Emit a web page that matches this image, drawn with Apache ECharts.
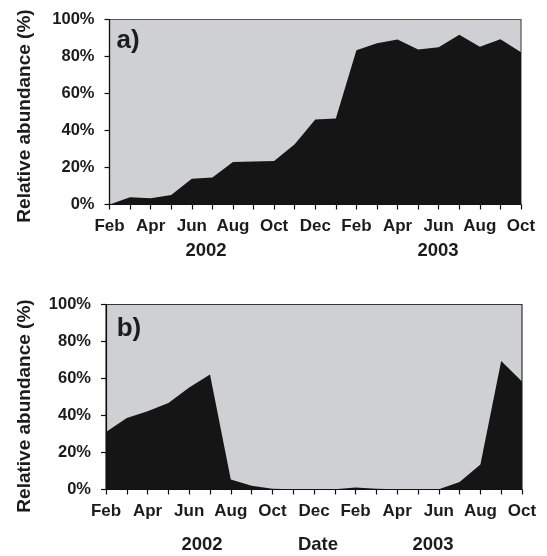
<!DOCTYPE html>
<html>
<head>
<meta charset="utf-8">
<script src="https://cdn.jsdelivr.net/npm/echarts@6/dist/echarts.min.js"></script>
<style>
html,body{margin:0;padding:0;background:#fff;}
#chart{width:547px;height:556px;}
</style>
</head>
<body>
<div id="chart"></div>
<script>
// Categories: monthly samples Feb 2002 .. Oct 2003
var months = ['Feb 2002','Mar 2002','Apr 2002','May 2002','Jun 2002','Jul 2002','Aug 2002','Sep 2002','Oct 2002','Nov 2002','Dec 2002',
              'Jan 2003','Feb 2003','Mar 2003','Apr 2003','May 2003','Jun 2003','Jul 2003','Aug 2003','Sep 2003','Oct 2003'];
// Panel a) relative abundance (%)
var valuesA = [0, 3.9, 3.4, 5.2, 13.9, 14.6, 23.0, 23.3, 23.5, 32.6, 45.9, 46.5, 83.4, 87.2, 89.2, 83.8, 85.0, 91.8, 85.3, 89.3, 82.3];
// Panel b) relative abundance (%)
var valuesB = [31.1, 38.7, 42.3, 46.8, 55.1, 62.1, 5.4, 2.0, 0.4, 0.2, 0.2, 0.2, 1.1, 0.4, 0.2, 0.2, 0.2, 4.1, 13.5, 69.5, 58.4];
var yTicks = [0, 20, 40, 60, 80, 100];
var panelLabels = ['a)', 'b)'];
var yearLabels = ['2002', '2003'];
var yTitle = 'Relative abundance (%)';
var xTitle = 'Date';

var FONT = '"Liberation Sans", Arial, Helvetica, sans-serif';
var TXT = '#1c1c1c';

function xAxisCfg(gridIndex) {
  return {
    type: 'category', gridIndex: gridIndex, data: months, boundaryGap: false,
    axisLine: { show: true, lineStyle: { color: '#111', width: 1.2 } },
    axisTick: { show: true, inside: false, length: 5, interval: 0, alignWithLabel: true, lineStyle: { color: '#111', width: 1.2 } },
    axisLabel: { interval: 1, margin: 13, fontFamily: FONT, fontWeight: 'bold', fontSize: 17, color: TXT,
      formatter: function (v) { return v.split(' ')[0]; } },
    splitLine: { show: false }, z: 10
  };
}
function yAxisCfg(gridIndex) {
  return {
    type: 'value', gridIndex: gridIndex, min: yTicks[0], max: yTicks[yTicks.length - 1], interval: yTicks[1] - yTicks[0],
    axisLine: { show: true, lineStyle: { color: '#111', width: 1.2 } },
    axisTick: { show: true, inside: false, length: 5, lineStyle: { color: '#111', width: 1.2 } },
    axisLabel: { margin: 15, fontFamily: FONT, fontWeight: 'bold', fontSize: 16.5, color: TXT, formatter: '{value}%' },
    splitLine: { show: false }, z: 10
  };
}
function areaSeries(idx, data) {
  return {
    type: 'line', xAxisIndex: idx, yAxisIndex: idx, data: data,
    showSymbol: false, symbol: 'none', smooth: false,
    lineStyle: { width: 0, color: '#151515' },
    areaStyle: { color: '#151515', opacity: 1 },
    silent: true, animation: false
  };
}
function txt(text, x, y, size, extra) {
  var o = { type: 'text', x: x, y: y, silent: true,
    style: { text: text, fill: TXT, font: 'bold ' + size + 'px ' + FONT, textAlign: 'center', textVerticalAlign: 'middle' } };
  if (extra) for (var k in extra) o[k] = extra[k];
  return o;
}

var chart = echarts.init(document.getElementById('chart'), null, { renderer: 'canvas' });
chart.setOption({
  animation: false,
  backgroundColor: '#ffffff',
  grid: [
    { left: 109.5, right: 26, top: 19.5, height: 185, show: true, backgroundColor: '#cfd0d3', borderColor: '#555', borderWidth: 1.2 },
    { left: 106, right: 25, top: 304.5, height: 185, show: true, backgroundColor: '#cfd0d3', borderColor: '#333', borderWidth: 1.2 }
  ],
  xAxis: [xAxisCfg(0), xAxisCfg(1)],
  yAxis: [yAxisCfg(0), yAxisCfg(1)],
  series: [areaSeries(0, valuesA), areaSeries(1, valuesB)],
  graphic: [
    txt(panelLabels[0], 128, 41, 26, { z: 100 }),
    txt(panelLabels[1], 129, 329, 26, { z: 100 }),
    txt(yTitle, 25, 116, 19, { rotation: Math.PI / 2 }),
    txt(yTitle, 25, 406, 19, { rotation: Math.PI / 2 }),
    txt(yearLabels[0], 206, 251, 18.5),
    txt(yearLabels[1], 438, 251, 18.5),
    txt(yearLabels[0], 202, 545, 18.5),
    txt(xTitle, 318, 545, 18.5),
    txt(yearLabels[1], 433, 545, 18.5)
  ]
});
</script>
</body>
</html>
